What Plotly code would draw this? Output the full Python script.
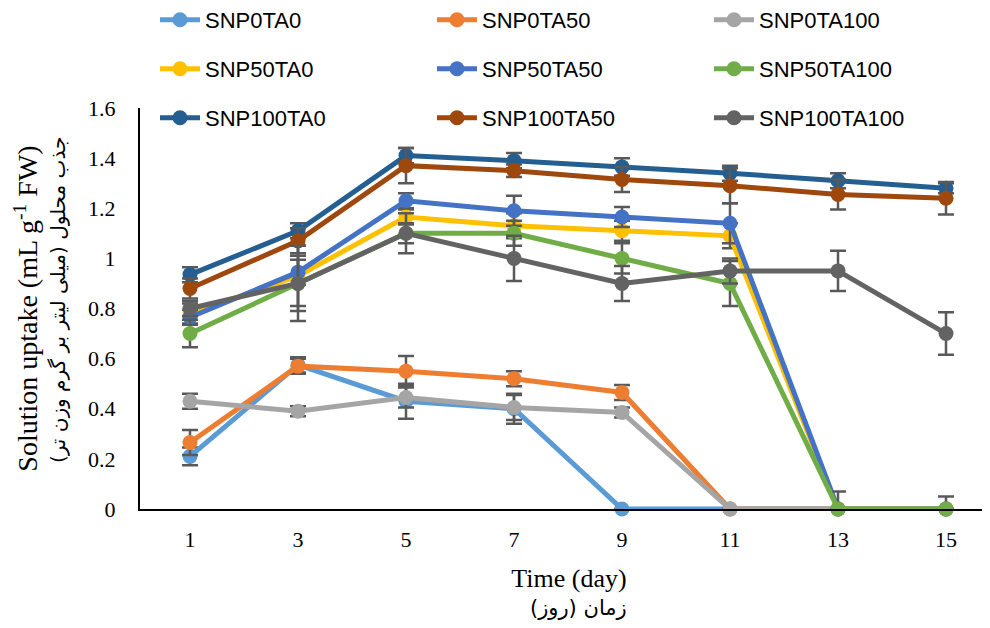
import plotly.graph_objects as go

days = [1, 3, 5, 7, 9, 11, 13, 15]

series_names = ["SNP0TA0", "SNP0TA50", "SNP0TA100",
                "SNP50TA0", "SNP50TA50", "SNP50TA100",
                "SNP100TA0", "SNP100TA50", "SNP100TA100"]

snp0ta0 = [0.21, 0.575, 0.43, 0.40, 0.0, 0.0, 0.0, 0.0]
snp0ta50 = [0.265, 0.57, 0.55, 0.52, 0.465, 0.0, 0.0, 0.0]
snp0ta100 = [0.43, 0.39, 0.445, 0.405, 0.385, 0.0, 0.0, 0.0]
snp50ta0 = [0.78, 0.93, 1.165, 1.13, 1.11, 1.09, 0.0, 0.0]
snp50ta50 = [0.765, 0.945, 1.23, 1.19, 1.165, 1.14, 0.0, 0.0]
snp50ta100 = [0.70, 0.90, 1.10, 1.10, 1.00, 0.90, 0.0, 0.0]
snp100ta0 = [0.935, 1.11, 1.41, 1.39, 1.365, 1.34, 1.31, 1.28]
snp100ta50 = [0.88, 1.07, 1.37, 1.35, 1.315, 1.29, 1.255, 1.24]
snp100ta100 = [0.80, 0.90, 1.10, 1.00, 0.90, 0.95, 0.95, 0.70]

err0ta0 = [0.035, 0.03, 0.07, 0.06, 0.0, 0.0, 0.0, 0.0]
err0ta50 = [0.05, 0.03, 0.06, 0.03, 0.03, 0.0, 0.0, 0.0]
err0ta100 = [0.03, 0.02, 0.04, 0.05, 0.02, 0.0, 0.0, 0.0]
err50ta0 = [0.04, 0.12, 0.03, 0.05, 0.04, 0.05, 0.0, 0.0]
err50ta50 = [0.03, 0.05, 0.03, 0.06, 0.04, 0.08, 0.0, 0.0]
err50ta100 = [0.055, 0.11, 0.04, 0.05, 0.06, 0.09, 0.07, 0.05]
err100ta0 = [0.03, 0.03, 0.03, 0.03, 0.035, 0.03, 0.03, 0.02]
err100ta50 = [0.04, 0.05, 0.07, 0.025, 0.05, 0.07, 0.06, 0.065]
err100ta100 = [0.03, 0.15, 0.08, 0.09, 0.07, 0.05, 0.08, 0.085]

values = [snp0ta0, snp0ta50, snp0ta100, snp50ta0, snp50ta50, snp50ta100,
          snp100ta0, snp100ta50, snp100ta100]
errors = [err0ta0, err0ta50, err0ta100, err50ta0, err50ta50, err50ta100,
          err100ta0, err100ta50, err100ta100]
colors = ["#5B9BD5", "#ED7D31", "#A5A5A5", "#FFC000", "#4472C4", "#70AD47",
          "#255E91", "#9E480E", "#636363"]
legend_ids = ["legend", "legend", "legend",
              "legend2", "legend2", "legend2",
              "legend3", "legend3", "legend3"]

y_ticks = [0, 0.2, 0.4, 0.6, 0.8, 1.0, 1.2, 1.4, 1.6]
y_tick_text = ["0", "0.2", "0.4", "0.6", "0.8", "1", "1.2", "1.4", "1.6"]

x_title_en = "Time (day)"
x_title_fa = "زمان (روز)"
y_title_en = "Solution uptake (mL g<sup>-1</sup> FW)"
y_title_fa = "جذب محلول (میلی لیتر بر گرم وزن تر)"

# page body has an 8px margin; figure coords = page coords - 8
L, T = 132, 100
PLOT_BOTTOM = 501
PLOT_H = PLOT_BOTTOM - T
PLOT_W = 990 - L

fig = go.Figure()
for name, vals, errs, col, lg in zip(series_names, values, errors, colors, legend_ids):
    fig.add_trace(go.Scatter(
        x=days, y=vals, name=name, mode="lines+markers",
        line=dict(color=col, width=5),
        marker=dict(color=col, size=15),
        error_y=dict(type="data", array=errs, visible=True,
                     color="#595959", thickness=2.5, width=8),
        cliponaxis=False, legend=lg,
    ))

legend_common = dict(orientation="h", xanchor="left", yanchor="middle",
                     entrywidth=222, entrywidthmode="pixels",
                     font=dict(family="Liberation Sans Narrow, Liberation Sans, sans-serif",
                               size=22, color="#000000"),
                     bgcolor="rgba(0,0,0,0)", itemwidth=40)

def py(page_y):
    return (PLOT_BOTTOM - (page_y - 8)) / PLOT_H

def px(page_x):
    return ((page_x - 8) - L) / PLOT_W

fig.update_layout(
    width=990, height=628,
    margin=dict(l=L, r=0, t=T, b=628 - PLOT_BOTTOM, autoexpand=False),
    plot_bgcolor="white", paper_bgcolor="white",
    font=dict(family="Liberation Serif, Times New Roman, serif", color="#000000"),
    legend=dict(x=px(155), y=py(20), **legend_common),
    legend2=dict(x=px(155), y=py(69), **legend_common),
    legend3=dict(x=px(155), y=py(118), **legend_common),
    xaxis=dict(
        range=[1 - 50 / 54, 15 + 52 / 54],
        tickvals=days, ticktext=[str(d) for d in days],
        showgrid=False, zeroline=False,
        showline=True, linecolor="#000000", linewidth=2,
        ticks="", tickfont=dict(size=22), ticklabelstandoff=10,
        title=dict(text=x_title_en, font=dict(size=26), standoff=17),
    ),
    yaxis=dict(
        range=[0, 1.6],
        tickvals=y_ticks, ticktext=y_tick_text,
        showgrid=False, zeroline=False,
        showline=True, linecolor="#000000", linewidth=2,
        ticks="", tickfont=dict(size=22), ticklabelstandoff=18,
        title=dict(text=y_title_en, font=dict(size=28), standoff=42),
    ),
    annotations=[
        dict(text=y_title_fa, xref="paper", yref="paper", x=px(58), y=py(300),
             xanchor="center", yanchor="middle", textangle=-90, showarrow=False,
             font=dict(family="DejaVu Sans", size=20, color="#000000")),
        dict(text=x_title_fa, xref="paper", yref="paper", x=px(578), y=py(608),
             xanchor="center", yanchor="middle", showarrow=False,
             font=dict(family="DejaVu Sans", size=21, color="#000000")),
    ],
)

fig.write_html("out.html")
